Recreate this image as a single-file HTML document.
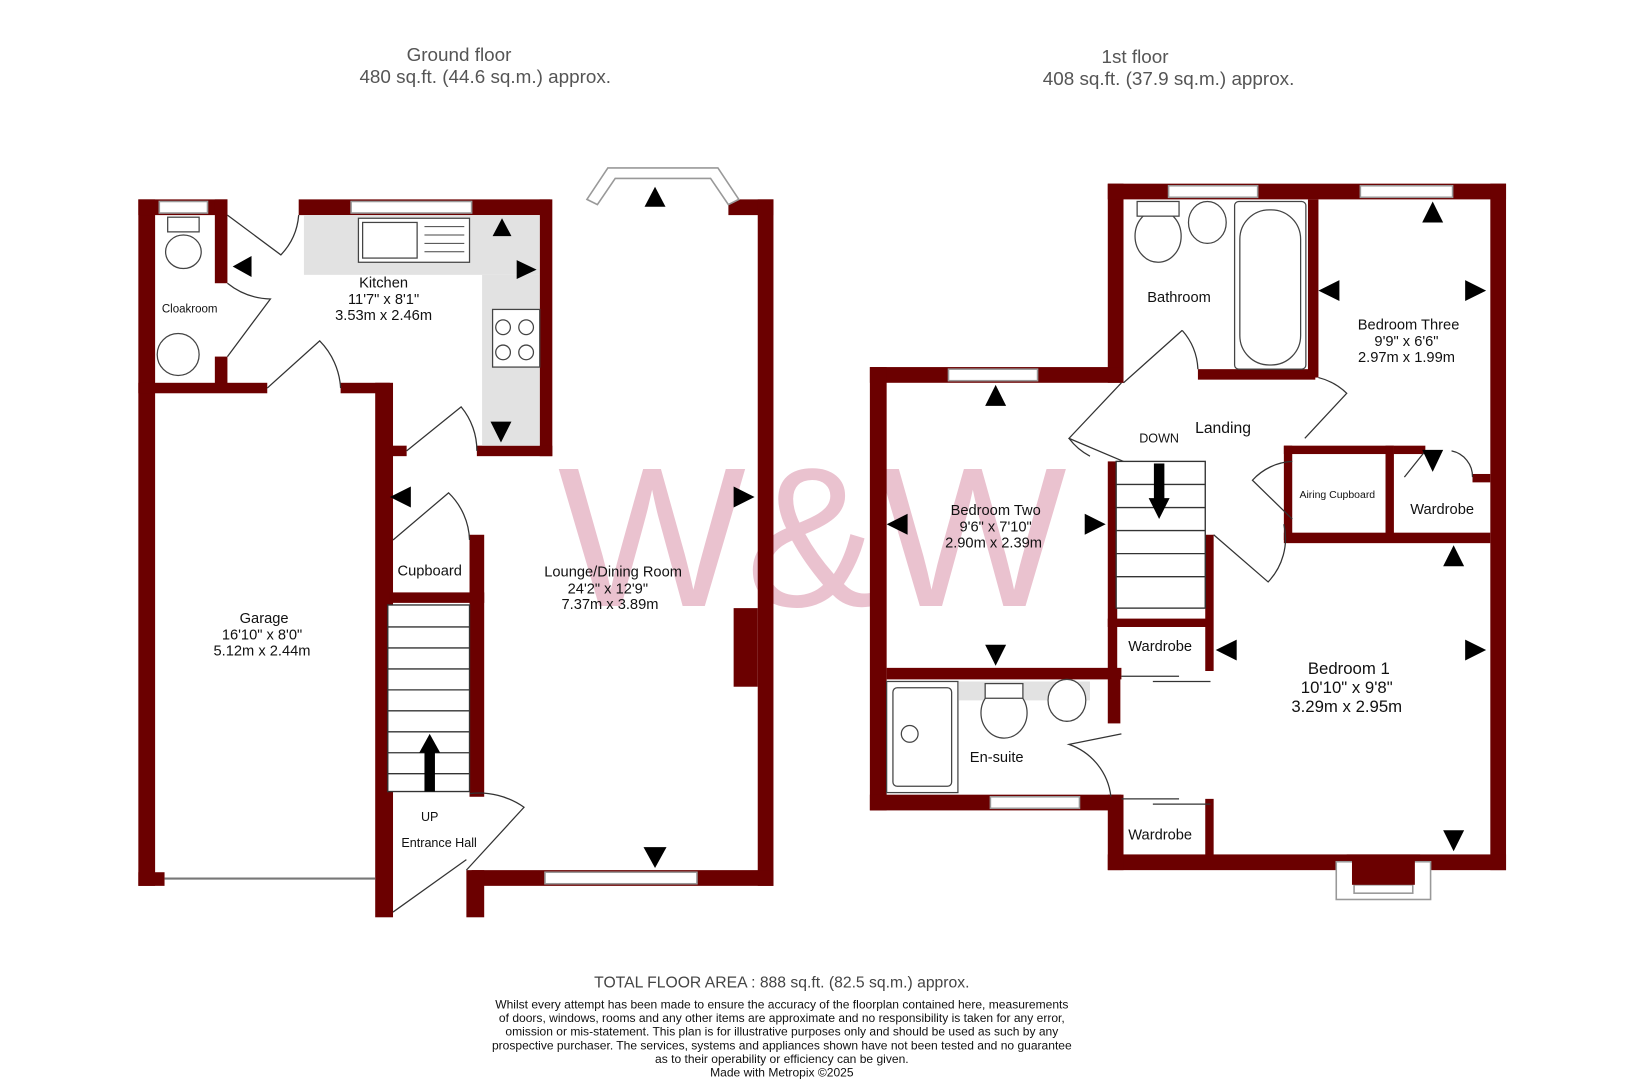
<!DOCTYPE html>
<html><head><meta charset="utf-8"><style>
html,body{margin:0;padding:0;background:#fff;}
svg{display:block;}
text{font-family:"Liberation Sans",Arial,sans-serif;fill:#111;}
</style></head><body>
<svg width="1636" height="1080" viewBox="0 0 1561 1030" xmlns="http://www.w3.org/2000/svg">
<!-- watermark -->
<text x="775" y="578" font-size="190" text-anchor="middle" style="fill:#e6b3c4;opacity:0.8">W&amp;W</text>
<g fill="#6b0000">
<rect x="132" y="190" width="16" height="655"/>
<rect x="132" y="190" width="85" height="15"/>
<rect x="205" y="190" width="12" height="80"/>
<rect x="205" y="340" width="12" height="30"/>
<rect x="285" y="190" width="240" height="15"/>
<rect x="695" y="190" width="43" height="15"/>
<rect x="723" y="190" width="15" height="655"/>
<rect x="450" y="830" width="288" height="15"/>
<rect x="132" y="365" width="123" height="10"/>
<rect x="325" y="365" width="47" height="10"/>
<rect x="358" y="365" width="17" height="510"/>
<rect x="132" y="832" width="25" height="13"/>
<rect x="445" y="830" width="17" height="45"/>
<rect x="515" y="190" width="12" height="245"/>
<rect x="455" y="425" width="72" height="10"/>
<rect x="372" y="425" width="16" height="10"/>
<rect x="448" y="510" width="14" height="250"/>
<rect x="372" y="565" width="90" height="10"/>
<rect x="700" y="580" width="23" height="75"/>
<rect x="1057" y="175" width="15" height="190"/>
<rect x="1057" y="175" width="380" height="15"/>
<rect x="1422" y="175" width="15" height="655"/>
<rect x="1057" y="815" width="380" height="15"/>
<rect x="1285" y="815" width="70" height="28"/>
<rect x="830" y="350" width="242" height="15"/>
<rect x="830" y="350" width="16" height="423"/>
<rect x="830" y="758" width="240" height="15"/>
<rect x="1057" y="758" width="15" height="72"/>
<rect x="846" y="637" width="224" height="11"/>
<rect x="1057" y="440" width="9" height="200"/>
<rect x="1057" y="590" width="100" height="8"/>
<rect x="1150" y="510" width="8" height="130"/>
<rect x="1057" y="640" width="12" height="50"/>
<rect x="1150" y="762" width="8" height="55"/>
<rect x="1143" y="352" width="112" height="10"/>
<rect x="1248" y="190" width="10" height="170"/>
<rect x="1225" y="508" width="197" height="10"/>
<rect x="1225" y="425" width="105" height="8"/>
<rect x="1225" y="425" width="8" height="90"/>
<rect x="1322" y="425" width="8" height="90"/>
<rect x="1330" y="425" width="30" height="8"/>
<rect x="1405" y="452" width="17" height="8"/>
</g>
<g fill="#fff" stroke="#999" stroke-width="1.5">
<rect x="152" y="192" width="46" height="11"/>
<rect x="335" y="192" width="115" height="11"/>
<rect x="520" y="832" width="145" height="11"/>
<rect x="1115" y="177" width="85" height="11"/>
<rect x="1298" y="177" width="88" height="11"/>
<rect x="905" y="352" width="85" height="11"/>
<rect x="945" y="760" width="85" height="11"/>
<rect x="1275" y="822" width="90" height="36"/>
<rect x="1292" y="844" width="56" height="8"/>
<polygon points="560,190 580,160 685,160 705,190 695,195 678,170 587,170 570,195"/>
</g>
<rect x="1290" y="818" width="60" height="26" fill="#6b0000"/>
<line x1="157" y1="838" x2="358" y2="838" stroke="#777" stroke-width="2"/>
<g fill="#e2e2e2">
<rect x="290" y="205" width="225" height="57"/>
<rect x="460" y="262" width="55" height="163"/>
<rect x="915" y="650" width="125" height="18"/>
</g>
<g fill="#fff" stroke="#444" stroke-width="1.2">
<rect x="342" y="208" width="106" height="42"/>
<rect x="346" y="212" width="52" height="34"/>
<rect x="470" y="295" width="45" height="55"/>
<circle cx="480" cy="312" r="7"/><circle cx="502" cy="312" r="7"/>
<circle cx="480" cy="336" r="7"/><circle cx="502" cy="336" r="7"/>
<ellipse cx="175" cy="240" rx="17" ry="16"/><rect x="160" y="207" width="30" height="14"/>
<ellipse cx="170" cy="338" rx="20" ry="20"/>
<ellipse cx="1105" cy="225" rx="22" ry="25"/><rect x="1085" y="192" width="40" height="14"/>
<ellipse cx="1152" cy="212" rx="18" ry="20"/>
<rect x="1178" y="192" width="68" height="160" rx="4"/><rect x="1183" y="200" width="58" height="148" rx="28"/>
<rect x="846" y="650" width="68" height="106"/><rect x="852" y="656" width="56" height="94" rx="4"/>
<circle cx="868" cy="700" r="8"/>
<ellipse cx="958" cy="680" rx="22" ry="24"/><rect x="940" y="652" width="36" height="14"/>
<ellipse cx="1018" cy="668" rx="18" ry="20"/>
</g>
<g stroke="#444" stroke-width="1"><line x1="405" y1="216" x2="443" y2="216"/><line x1="405" y1="224" x2="443" y2="224"/><line x1="405" y1="232" x2="443" y2="232"/><line x1="405" y1="240" x2="443" y2="240"/></g>
<g fill="none" stroke="#333" stroke-width="1.2">
<path d="M217 205 L268 243 A62 62 0 0 0 285 205"/>
<path d="M217 340 L258 285 A68 68 0 0 1 217 270"/>
<path d="M255 370 L305 325 A70 70 0 0 1 325 370"/>
<path d="M388 430 L440 388 A65 65 0 0 1 455 430"/>
<path d="M375 515 L428 470 A65 65 0 0 1 448 515"/>
<path d="M375 870 L445 820"/>
<path d="M445 830 L500 770 A75 75 0 0 0 448 757"/>
<path d="M1072 440 L1020 418 L1070 365 M1128 315 A60 60 0 0 1 1143 352 M1072 365 L1128 315"/>
<path d="M1040 435 A60 60 0 0 1 1020 418"/>
<path d="M1245 418 L1285 375 A60 60 0 0 0 1258 360"/>
<path d="M1233 495 L1195 458 A55 55 0 0 1 1233 440"/>
<path d="M1158 510 L1210 555 A60 60 0 0 0 1225 500"/>
<path d="M1340 455 L1360 430 M1385 430 A25 25 0 0 1 1405 455"/>
<path d="M1070 700 L1020 710 A60 60 0 0 1 1060 760"/>
<line x1="1070" y1="645" x2="1125" y2="645"/><line x1="1100" y1="650" x2="1155" y2="650"/>
<line x1="1070" y1="762" x2="1125" y2="762"/><line x1="1100" y1="767" x2="1155" y2="767"/>
</g>
<g fill="#fff" stroke="#333" stroke-width="1.3">
<rect x="370" y="577" width="78" height="178"/>
<rect x="1065" y="440" width="85" height="140"/>
</g>
<g stroke="#333" stroke-width="1.3">
<line x1="370" y1="598" x2="448" y2="598"/><line x1="370" y1="618" x2="448" y2="618"/><line x1="370" y1="638" x2="448" y2="638"/><line x1="370" y1="658" x2="448" y2="658"/><line x1="370" y1="678" x2="448" y2="678"/><line x1="370" y1="698" x2="448" y2="698"/><line x1="370" y1="718" x2="448" y2="718"/><line x1="370" y1="738" x2="448" y2="738"/>
<line x1="1065" y1="462" x2="1150" y2="462"/><line x1="1065" y1="484" x2="1150" y2="484"/><line x1="1065" y1="506" x2="1150" y2="506"/><line x1="1065" y1="528" x2="1150" y2="528"/><line x1="1065" y1="550" x2="1150" y2="550"/>
</g>
<g fill="#000">
<rect x="405" y="715" width="10" height="40"/><polygon points="400,718 420,718 410,700"/>
<rect x="1101" y="442" width="10" height="35"/><polygon points="1096,475 1116,475 1106,495"/>
</g>
<g fill="#000">
<polygon points="615,197 635,197 625,178"/>
<polygon points="470,225 488,225 479,208"/>
<polygon points="493,248 493,266 512,257"/>
<polygon points="468,402 488,402 478,422"/>
<polygon points="240,244 240,264 222,254"/>
<polygon points="392,464 392,484 372,474"/>
<polygon points="700,464 700,484 720,474"/>
<polygon points="614,808 636,808 625,828"/>
<polygon points="1357,212 1377,212 1367,192"/>
<polygon points="1278,267 1278,287 1258,277"/>
<polygon points="1398,267 1398,287 1418,277"/>
<polygon points="940,387 960,387 950,367"/>
<polygon points="866,490 866,510 846,500"/>
<polygon points="1035,490 1035,510 1055,500"/>
<polygon points="940,615 960,615 950,635"/>
<polygon points="1357,429 1377,429 1367,450"/>
<polygon points="1377,540 1397,540 1387,520"/>
<polygon points="1180,610 1180,630 1160,620"/>
<polygon points="1398,610 1398,630 1418,620"/>
<polygon points="1377,792 1397,792 1387,812"/>
</g>
<g text-anchor="middle">
<text x="438" y="58" font-size="18" style="fill:#555">Ground floor</text>
<text x="463" y="79" font-size="18" style="fill:#555">480 sq.ft. (44.6 sq.m.) approx.</text>
<text x="1083" y="60" font-size="18" style="fill:#555">1st floor</text>
<text x="1115" y="81" font-size="18" style="fill:#555">408 sq.ft. (37.9 sq.m.) approx.</text>
<text x="366" y="274" font-size="14">Kitchen</text>
<text x="366" y="290" font-size="14">11'7"  x 8'1"</text>
<text x="366" y="305" font-size="14">3.53m  x 2.46m</text>
<text x="181" y="298" font-size="11">Cloakroom</text>
<text x="410" y="549" font-size="14">Cupboard</text>
<text x="585" y="550" font-size="14">Lounge/Dining Room</text>
<text x="580" y="566" font-size="14">24'2"  x 12'9"</text>
<text x="582" y="581" font-size="14">7.37m  x 3.89m</text>
<text x="252" y="594" font-size="14">Garage</text>
<text x="250" y="610" font-size="14">16'10"  x 8'0"</text>
<text x="250" y="625" font-size="14">5.12m  x 2.44m</text>
<text x="410" y="783" font-size="12">UP</text>
<text x="419" y="808" font-size="12">Entrance Hall</text>
<text x="1125" y="288" font-size="14">Bathroom</text>
<text x="1344" y="314" font-size="14">Bedroom Three</text>
<text x="1342" y="330" font-size="14">9'9"  x 6'6"</text>
<text x="1342" y="345" font-size="14">2.97m  x 1.99m</text>
<text x="1106" y="422" font-size="12">DOWN</text>
<text x="1167" y="413" font-size="15">Landing</text>
<text x="1276" y="475" font-size="10">Airing Cupboard</text>
<text x="1376" y="490" font-size="14">Wardrobe</text>
<text x="950" y="491" font-size="14">Bedroom Two</text>
<text x="950" y="507" font-size="14">9'6"  x 7'10"</text>
<text x="948" y="522" font-size="14">2.90m  x 2.39m</text>
<text x="1107" y="621" font-size="14">Wardrobe</text>
<text x="1287" y="643" font-size="16">Bedroom 1</text>
<text x="1285" y="661" font-size="16">10'10"  x 9'8"</text>
<text x="1285" y="679" font-size="16">3.29m  x 2.95m</text>
<text x="951" y="727" font-size="14">En-suite</text>
<text x="1107" y="801" font-size="14">Wardrobe</text>
<text x="746" y="942" font-size="15" style="fill:#444">TOTAL FLOOR AREA : 888 sq.ft. (82.5 sq.m.) approx.</text>
<g font-size="11.5">
<text x="746" y="962">Whilst every attempt has been made to ensure the accuracy of the floorplan contained here, measurements</text>
<text x="746" y="975">of doors, windows, rooms and any other items are approximate and no responsibility is taken for any error,</text>
<text x="746" y="988">omission or mis-statement. This plan is for illustrative purposes only and should be used as such by any</text>
<text x="746" y="1001">prospective purchaser. The services, systems and appliances shown have not been tested and no guarantee</text>
<text x="746" y="1014">as to their operability or efficiency can be given.</text>
<text x="746" y="1027">Made with Metropix ©2025</text>
</g>
</g>
</svg>
</body></html>
